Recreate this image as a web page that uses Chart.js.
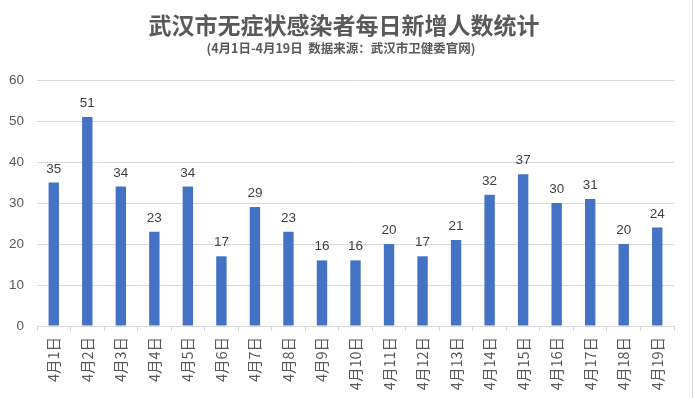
<!DOCTYPE html>
<html>
<head>
<meta charset="utf-8">
<script src="https://cdn.jsdelivr.net/npm/chart.js@4/dist/chart.umd.min.js"></script>
<style>
  html, body { margin: 0; padding: 0; background: #fff; }
  #wrap { position: relative; width: 694px; height: 398px; }
  #edge { position: absolute; left: 692px; top: 0; width: 1px; height: 398px; background: #d9d9d9; }
</style>
</head>
<body>
<div id="wrap">
  <canvas id="chart" width="694" height="398"></canvas>
  <div id="edge"></div>
</div>
<script>
// Data
const days = [
  "4月1日", "4月2日", "4月3日", "4月4日", "4月5日", "4月6日", "4月7日",
  "4月8日", "4月9日", "4月10日", "4月11日", "4月12日", "4月13日",
  "4月14日", "4月15日", "4月16日", "4月17日", "4月18日", "4月19日",
];
const newCases = [35, 51, 34, 23, 34, 17, 29, 23, 16, 16, 20, 17, 21, 32, 37, 30, 31, 20, 24];
const yTicks = [0, 10, 20, 30, 40, 50, 60];

const titleText = "武汉市无症状感染者每日新增人数统计";
const subtitleText = "(4月1日-4月19日  数据来源：武汉市卫健委官网)";

const CJK = '"Noto Sans CJK SC", "Noto Sans", sans-serif';
const LATIN = '"Liberation Sans", Arial, sans-serif';

// title block, centred on the whole picture like the original
const headings = {
  id: "headings",
  afterDraw(chart) {
    const { ctx } = chart;
    ctx.save();
    ctx.fillStyle = "#595959";
    ctx.textAlign = "center";
    ctx.textBaseline = "middle";
    ctx.font = "bold 23px " + CJK;
    ctx.fillText(titleText, 344, 25);
    ctx.font = "bold 12.5px " + CJK;
    ctx.fillText(subtitleText, 341, 48);
    ctx.restore();
  },
};

// value labels over each bar
const barLabels = {
  id: "barLabels",
  afterDatasetsDraw(chart) {
    const { ctx } = chart;
    const meta = chart.getDatasetMeta(0);
    ctx.save();
    ctx.font = "13.5px " + LATIN;
    ctx.fillStyle = "#404040";
    ctx.textAlign = "center";
    ctx.textBaseline = "alphabetic";
    meta.data.forEach((bar, i) => {
      ctx.fillText(String(newCases[i]), bar.x, bar.y - 10);
    });
    ctx.restore();
  },
};

new Chart(document.getElementById("chart").getContext("2d"), {
  type: "bar",
  data: {
    labels: days,
    datasets: [
      {
        data: newCases,
        backgroundColor: "#4472C4",
        barPercentage: 0.62,
        categoryPercentage: 0.5,
      },
    ],
  },
  options: {
    responsive: false,
    animation: false,
    devicePixelRatio: 1,
    layout: { padding: { left: 0, right: 20, top: 80, bottom: 0 } },
    plugins: {
      legend: { display: false },
      tooltip: { enabled: false },
    },
    scales: {
      x: {
        offset: true,
        grid: {
          offset: true,
          drawOnChartArea: false,
          drawTicks: true,
          tickLength: 5,
          color: "#d9d9d9",
        },
        border: { display: true, color: "#d9d9d9" },
        ticks: {
          color: "#595959",
          font: { family: CJK, size: 14.5 },
          minRotation: 90,
          maxRotation: 90,
          padding: 6,
          autoSkip: false,
        },
        afterFit: (scale) => { scale.height = 72; },
      },
      y: {
        min: 0,
        max: 60,
        afterBuildTicks: (scale) => { scale.ticks = yTicks.map((v) => ({ value: v })); },
        grid: { color: "#d9d9d9", drawTicks: false },
        border: { display: false },
        ticks: {
          color: "#595959",
          font: { family: LATIN, size: 13.5 },
          padding: 13,
        },
        afterFit: (scale) => { scale.width = 37; },
      },
    },
  },
  plugins: [barLabels, headings],
});
</script>
</body>
</html>
